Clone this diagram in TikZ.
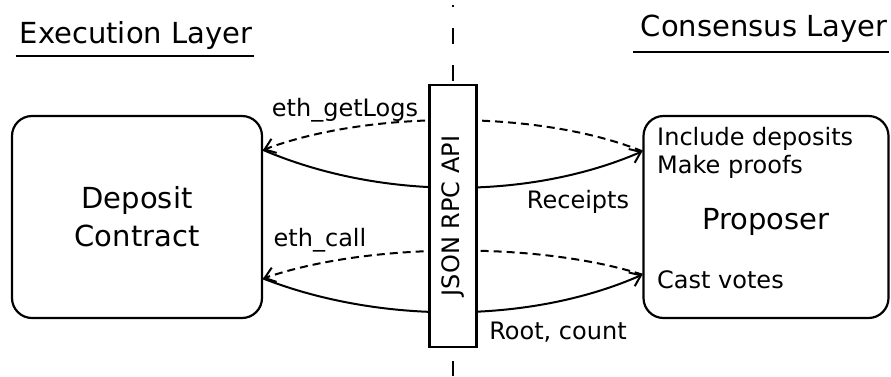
\documentclass[tikz,border=0pt]{standalone}
\usepackage{fontspec}
\setmainfont{DejaVu Sans}
\usetikzlibrary{arrows.meta}

\begin{document}
\begin{tikzpicture}[x=1pt, y=-1pt,
        bigtxt/.style={font=\fontsize{29}{38}\selectfont, inner sep=0pt},
        smalltxt/.style={font=\fontsize{24}{28}\selectfont, inner sep=0pt},
        box/.style={draw, line width=2.2pt, rounded corners=20pt, fill=white},
        rule/.style={line width=2.2pt},
        arrow/.style={-{Straight Barb[length=10pt, width=15pt]}, line width=2pt},
        calls/.style={arrow, dash pattern=on 8pt off 5pt}]

        \useasboundingbox (0,0) rectangle (891,376);

        %%% Layer titles
        \node[bigtxt, anchor=base] (exec) at (136,43) {Execution Layer};
        \node[bigtxt, anchor=base] (cons) at (764,36) {Consensus Layer};
        \draw[rule] ([shift={(-4pt,-13pt)}]exec.base west) -- ([shift={(2pt,-13pt)}]exec.base east);
        \draw[rule] ([shift={(-8pt,-16pt)}]cons.base west) -- ([shift={(2pt,-16pt)}]cons.base east);

        % Border between the two layers
        \coordinate (axtop) at (453,5);
        \coordinate (axbot) at (453,376);
        \draw[line width=2.2pt, dash pattern=on 16pt off 21pt, dash phase=14pt] (axtop) -- (axbot);

        %%% Execution side
        \node[box, minimum width=250, minimum height=202, align=center, bigtxt] (deposit) at (137,217) {Deposit\\Contract};

        %%% Consensus side
        \node[box, minimum width=245, minimum height=202] (proposer) at (766,217) {};
        \node[smalltxt, anchor=base west] (incl) at (657,145) {Include deposits};
        \node[smalltxt, anchor=base west] (proofs) at (657,173) {Make proofs};
        \node[bigtxt, anchor=base] (prop) at (766,229) {Proposer};
        \node[smalltxt, anchor=base west] (votes) at (657,288) {Cast votes};

        %%% Calls and answers
        \draw[arrow] (deposit.28) .. controls (380,200) and (530,200) .. (proposer.152);
        \draw[calls] (proposer.152) .. controls (540,110) and (370,110) .. (deposit.28);
        \draw[arrow] (deposit.-26) .. controls (380,324) and (530,324) .. (proposer.205);
        \draw[calls] (proposer.205) .. controls (540,242) and (370,242) .. (deposit.-26);

        % The API sits on top of the border
        \node[draw, line width=2.2pt, fill=white, rotate=90, minimum width=262, minimum height=47,
              font=\fontsize{24}{28}\selectfont] (rpc) at (453,216) {JSON RPC API};

        %%% Labels
        \node[smalltxt] (getlogs) at (345,110) {eth\_getLogs};
        \node[smalltxt] (receipts) at (578,202) {Receipts};
        \node[smalltxt] (ethcall) at (320,240) {eth\_call};
        \node[smalltxt] (root) at (558,332) {Root, count};
      \end{tikzpicture}
\end{document}
